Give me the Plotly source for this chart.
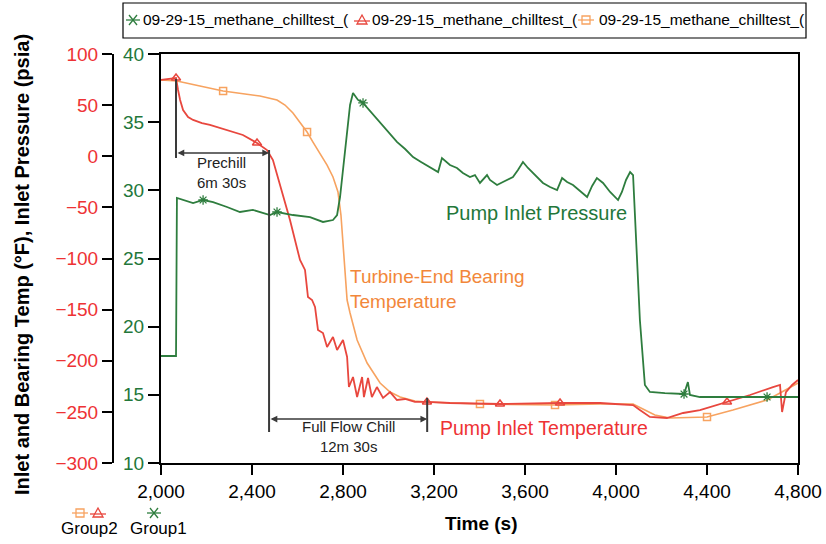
import plotly.graph_objects as go

W, H = 826, 544

# ---------------- data ----------------
# Pump inlet pressure (psia), right-hand green axis
t_pressure = [2000, 2066, 2070, 2141, 2185, 2229, 2290, 2347, 2404, 2479, 2510, 2580, 2655,
              2712, 2756, 2774, 2787, 2809, 2831, 2844, 2866, 2888, 2927, 2963, 2998, 3037,
              3073, 3108, 3143, 3182, 3218, 3235, 3270, 3301, 3327, 3358, 3380, 3402, 3433,
              3446, 3477, 3503, 3547, 3569, 3591, 3613, 3635, 3679, 3710, 3741, 3763, 3785,
              3811, 3842, 3873, 3895, 3916, 3943, 3974, 4009, 4026, 4044, 4062, 4075, 4088,
              4105, 4127, 4149, 4215, 4268, 4299, 4316, 4325, 4369, 4514, 4664, 4800]
p_pressure = [17.85, 17.85, 29.44, 29.07, 29.29, 29.14, 28.78, 28.41, 28.56, 28.19, 28.41,
              28.19, 28.04, 27.68, 27.82, 28.19, 29.51, 32.96, 36.26, 37.14, 36.63, 36.41,
              35.67, 34.94, 34.28, 33.55, 33.03, 32.44, 32.08, 31.71, 31.34, 32.37, 31.86,
              31.64, 31.27, 30.98, 31.12, 30.54, 31.12, 30.76, 30.39, 30.61, 30.98, 31.49,
              32.08, 31.64, 31.27, 30.54, 30.24, 30.02, 30.90, 30.61, 30.39, 29.95, 29.51,
              30.32, 30.90, 30.54, 29.88, 29.29, 29.88, 30.76, 31.34, 31.12, 26.36, 20.49,
              15.72, 15.21, 15.13, 15.06, 15.06, 15.94, 14.99, 14.84, 14.84, 14.84, 14.84]

# Pump inlet temperature (deg F), red
t_inlet = [2000, 2040, 2066, 2075, 2084, 2097, 2119, 2141, 2180, 2215, 2290, 2360, 2422,
           2466, 2492, 2523, 2567, 2611, 2633, 2646, 2664, 2677, 2690, 2712, 2730, 2756,
           2774, 2800, 2818, 2826, 2844, 2862, 2884, 2892, 2910, 2927, 2949, 2976, 3007,
           3037, 3073, 3116, 3169, 3270, 3490, 3754, 3930, 3996, 4075, 4105, 4149, 4224,
           4295, 4369, 4488, 4589, 4690, 4721, 4730, 4747, 4774, 4800]
T_inlet = [74.6, 75.5, 76.5, 64.8, 55.0, 45.2, 38.4, 35.5, 32.5, 30.6, 25.7, 20.8, 13.0,
           6.1, -3.7, -28.1, -62.3, -101.5, -111.2, -137.7, -140.6, -147.4, -169.9, -172.9,
           -186.6, -176.8, -189.5, -179.7, -196.3, -225.7, -215.9, -235.5, -215.9, -235.5,
           -216.9, -235.5, -225.7, -236.4, -230.6, -238.4, -237.4, -240.3, -240.3, -241.3,
           -242.3, -241.3, -241.3, -242.3, -243.3, -248.2, -255.0, -256.0, -251.1, -248.2,
           -240.3, -233.5, -225.7, -223.7, -250.1, -230.6, -223.7, -218.8]

# Turbine-end bearing temperature (deg F), orange
t_bearing = [2000, 2070, 2171, 2273, 2369, 2435, 2510, 2545, 2580, 2611, 2642, 2668, 2699,
             2730, 2756, 2778, 2791, 2800, 2809, 2818, 2831, 2862, 2906, 2963, 3007, 3051,
             3116, 3169, 3402, 3732, 3930, 4075, 4127, 4171, 4237, 4400, 4514, 4664, 4721,
             4800]
T_bearing = [74.6, 73.6, 68.7, 63.8, 60.9, 58.9, 55.0, 50.1, 42.3, 33.5, 23.7, 13.9, 3.2,
             -8.6, -20.3, -35.0, -57.5, -86.8, -121.0, -140.6, -153.3, -179.7, -202.2,
             -221.8, -230.6, -235.5, -239.4, -240.3, -242.3, -243.3, -242.3, -242.3, -248.2,
             -253.1, -256.0, -255.0, -248.2, -238.4, -231.5, -221.8]

# times at which the series symbols are drawn
mk_pressure = [2185, 2510, 2888, 4299, 4664]
mk_inlet = [2066, 2422, 3169, 3490, 3754, 4488]
mk_bearing = [2273, 2642, 3402, 3732, 4400]

x_ticks = list(range(2000, 4801, 400))
temp_ticks = list(range(-300, 101, 50))
press_ticks = list(range(10, 41, 5))
legend_label = "09-29-15_methane_chilltest_("

# phase brackets (time s, temperature F)
prechill_t = [2066, 2475]
fullflow_t = [2475, 3170]

RED = "#EE3234"
RED_LINE = "#E8473E"
GREEN = "#23773A"
GREEN_LINE = "#2E7D3E"
ORANGE = "#F2873A"
ORANGE_LINE = "#F7A360"
GREY = "#3A3A3A"
FONT = "Liberation Sans, Arial, sans-serif"


def px(x):
    return x / W


def py(y):
    return 1 - y / H


fig = go.Figure()

fig.add_trace(go.Scatter(x=t_bearing, y=T_bearing, mode="lines", yaxis="y",
                         line=dict(color=ORANGE_LINE, width=1.6), showlegend=False))
fig.add_trace(go.Scatter(x=[t for t in t_bearing if t in mk_bearing],
                         y=[v for t, v in zip(t_bearing, T_bearing) if t in mk_bearing],
                         mode="markers", yaxis="y", showlegend=False,
                         marker=dict(symbol="square-open", size=7, color=ORANGE_LINE,
                                     line=dict(width=1.5, color=ORANGE_LINE))))
fig.add_trace(go.Scatter(x=t_inlet, y=T_inlet, mode="lines", yaxis="y",
                         line=dict(color=RED_LINE, width=1.8), showlegend=False))
fig.add_trace(go.Scatter(x=[t for t in t_inlet if t in mk_inlet],
                         y=[v for t, v in zip(t_inlet, T_inlet) if t in mk_inlet],
                         mode="markers", yaxis="y", showlegend=False,
                         marker=dict(symbol="triangle-up-open", size=8, color=RED_LINE,
                                     line=dict(width=1.5, color=RED_LINE))))
fig.add_trace(go.Scatter(x=t_pressure, y=p_pressure, mode="lines", yaxis="y2",
                         line=dict(color=GREEN_LINE, width=1.8), showlegend=False))
fig.add_trace(go.Scatter(x=[t for t in t_pressure if t in mk_pressure],
                         y=[v for t, v in zip(t_pressure, p_pressure) if t in mk_pressure],
                         mode="markers", yaxis="y2", showlegend=False,
                         marker=dict(symbol="asterisk-open", size=8, color=GREEN_LINE,
                                     line=dict(width=1.3, color=GREEN_LINE))))

shapes = []
annotations = []

# phase brackets
shapes.append(dict(type="line", xref="x", yref="y", x0=prechill_t[0], x1=prechill_t[0],
                   y0=75.5, y1=-1.7, line=dict(color=GREY, width=2)))
shapes.append(dict(type="line", xref="x", yref="y", x0=prechill_t[1], x1=prechill_t[1],
                   y0=6.1, y1=-269.7, line=dict(color=GREY, width=2)))
shapes.append(dict(type="line", xref="x", yref="y", x0=fullflow_t[1], x1=fullflow_t[1],
                   y0=-236.4, y1=-269.7, line=dict(color=GREY, width=2)))
for (a, b), yv in ((prechill_t, 3.2), (fullflow_t, -257.0)):
    annotations.append(dict(x=b, y=yv, ax=a, ay=yv, xref="x", yref="y", axref="x", ayref="y",
                            text="", showarrow=True, arrowside="end+start", arrowhead=2,
                            arrowsize=0.9, arrowwidth=1.5, arrowcolor=GREY,
                            standoff=0, startstandoff=0))


def note(x, y, text, size, color, xref="x", yref="y", xanchor="center", **kw):
    annotations.append(dict(x=x, y=y, xref=xref, yref=yref, showarrow=False, text=text,
                            xanchor=xanchor, yanchor="middle",
                            font=dict(family=FONT, size=size, color=color), **kw))


note(2268, -15.9, "Prechill<br>6m 30s", 15, "#222")
note(2826, -274.1, "Full Flow Chill<br>12m 30s", 15, "#222")
note(2822, -129.8, "Turbine-End Bearing<br>Temperature", 19, ORANGE, xanchor="left", align="left")
note(3650, 28.34, "Pump Inlet Pressure", 20, GREEN, yref="y2")
note(3683, -265.8, "Pump Inlet Temperature", 19.5, RED)

# axis titles
note(px(22), py(265), "<b>Inlet and Bearing Temp (°F), Inlet Pressure (psia)</b>", 20, "black",
     xref="paper", yref="paper", textangle=-90)
note(px(481), py(523), "<b>Time (s)</b>", 19, "black", xref="paper", yref="paper")


# legend-like decorations drawn in pixel positions
def sym_square(cx, cy, color):
    return [dict(type="line", xref="paper", yref="paper", x0=px(cx - 8), x1=px(cx + 8),
                 y0=py(cy), y1=py(cy), line=dict(color=color, width=1.3)),
            dict(type="rect", xref="paper", yref="paper", x0=px(cx - 4), x1=px(cx + 4),
                 y0=py(cy - 4), y1=py(cy + 4), line=dict(color=color, width=1.3))]


def sym_triangle(cx, cy, color):
    path = "M {} {} L {} {} L {} {} Z".format(px(cx - 5), py(cy + 4), px(cx + 5), py(cy + 4),
                                               px(cx), py(cy - 5))
    return [dict(type="line", xref="paper", yref="paper", x0=px(cx - 8), x1=px(cx + 8),
                 y0=py(cy + 1), y1=py(cy + 1), line=dict(color=color, width=1.3)),
            dict(type="path", xref="paper", yref="paper", path=path, line=dict(color=color, width=1.3))]


def sym_asterisk(cx, cy, color):
    return [dict(type="line", xref="paper", yref="paper", x0=px(cx - 7), x1=px(cx + 7),
                 y0=py(cy), y1=py(cy), line=dict(color=color, width=1.3)),
            dict(type="line", xref="paper", yref="paper", x0=px(cx - 4), x1=px(cx + 4),
                 y0=py(cy - 5), y1=py(cy + 5), line=dict(color=color, width=1.3)),
            dict(type="line", xref="paper", yref="paper", x0=px(cx - 4), x1=px(cx + 4),
                 y0=py(cy + 5), y1=py(cy - 5), line=dict(color=color, width=1.3))]


shapes.append(dict(type="rect", xref="paper", yref="paper", x0=px(123), x1=px(806),
                   y0=py(38), y1=py(3), line=dict(color="black", width=1.2)))
shapes += sym_asterisk(133, 20, GREEN_LINE)
shapes += sym_triangle(362, 20, RED_LINE)
shapes += sym_square(586, 20, ORANGE_LINE)
for xl in (141, 370, 597):
    note(px(xl), py(20), legend_label, 15.5, "black", xref="paper", yref="paper", xanchor="left")

shapes += sym_square(80, 513, ORANGE_LINE)
shapes += sym_triangle(98, 513, RED_LINE)
shapes += sym_asterisk(154, 513, GREEN_LINE)
note(px(89), py(528), "Group2", 17, "black", xref="paper", yref="paper")
note(px(158), py(528), "Group1", 17, "black", xref="paper", yref="paper")

fig.update_layout(
    template="none",
    width=W, height=H,
    margin=dict(l=0, r=0, t=0, b=0, pad=0),
    paper_bgcolor="white", plot_bgcolor="white",
    showlegend=False,
    font=dict(family=FONT, size=19, color="black"),
    xaxis=dict(domain=[px(161), px(798)], range=[2000, 4800], tickvals=x_ticks,
               tickformat=",d", ticks="outside", ticklen=10, tickwidth=1.5, tickcolor="black",
               showline=True, linewidth=2, linecolor="black", mirror=True, showgrid=False,
               zeroline=False, automargin=False, tickfont=dict(family=FONT, size=19, color="black")),
    yaxis=dict(domain=[py(463), py(54)], range=[-300, 100], tickvals=temp_ticks,
               anchor="free", position=px(113), side="left", ticks="outside", ticklen=10,
               tickwidth=1.5, tickcolor="black", showline=True, linewidth=2, linecolor="black",
               showgrid=False, zeroline=False, automargin=False, ticklabelstandoff=0,
               tickfont=dict(family=FONT, size=19, color=RED)),
    yaxis2=dict(domain=[py(463), py(54)], range=[10, 40], tickvals=press_ticks,
                overlaying="y", anchor="x", side="left", ticks="outside", ticklen=11,
                tickwidth=1.5, tickcolor="black", showline=True, linewidth=2, linecolor="black",
                mirror=True, showgrid=False, zeroline=False, automargin=False,
                ticklabelstandoff=0, tickfont=dict(family=FONT, size=19, color=GREEN)),
    shapes=shapes,
    annotations=annotations,
)

fig.write_html("out.html", config={"displayModeBar": False},
               post_script="document.body.style.margin='0';document.body.style.padding='0';")
